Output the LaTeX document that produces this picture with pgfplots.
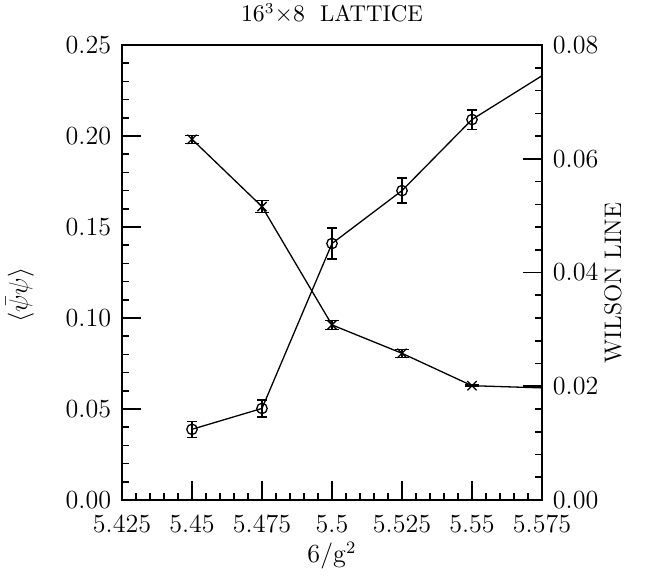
\documentclass[border=0pt]{standalone}
\usepackage{pgfplots}
\pgfplotsset{compat=1.18}

% Wilson line (right axis): x, y, error
\pgfplotstableread{
x      y        e
5.45   0.01243  0.0014
5.475  0.0161   0.0015
5.5    0.0451   0.0027
5.525  0.0544   0.0022
5.55   0.0669   0.0017
}\wilson
% <psibar psi> (left axis)
\pgfplotstableread{
x      y        e
5.45   0.1982   0.0022
5.475  0.1612   0.0033
5.5    0.0962   0.0025
5.525  0.0806   0.0022
5.55   0.0628   0.0004
}\pbp

\begin{document}
\begin{tikzpicture}
\path[use as bounding box] (-56.12pt,-35.42pt) rectangle (241.96pt,230pt);
\pgfplotsset{
  every axis/.append style={
    scale only axis, width=193.2pt, height=209.3pt,
    xmin=5.425, xmax=5.575,
    axis line style={line width=0.9pt},
    tick align=inside,
    major tick length=8.7pt, minor tick length=3.2pt,
    every tick/.style={black, line width=0.7pt},
    tick label style={font=\fontsize{12}{14}\selectfont},
  },
}
\begin{axis}[
  ymin=0, ymax=0.25,
  tick pos=left,
  xtick={5.425,5.45,5.475,5.5,5.525,5.55,5.575},
  xticklabels={5.425,5.45,5.475,5.5,5.525,5.55,5.575},
  minor x tick num=4,
  ytick={0,0.05,0.10,0.15,0.20,0.25},
  minor y tick num=4,
  yticklabel style={xshift=-1.5pt, /pgf/number format/fixed, /pgf/number format/fixed zerofill, /pgf/number format/precision=2},
  xticklabel style={yshift=-3.5pt},
  xlabel={$6/\mathrm{g}^2$},
  xlabel style={font=\fontsize{12}{14}\selectfont, at={(axis description cs:0.5,-0.122)}, anchor=center},
  ylabel={$\langle\bar\psi\psi\rangle$},
  ylabel style={font=\fontsize{12}{14}\selectfont, at={(axis description cs:-0.243,0.45)}, anchor=center},
  title={$16^3{\times}8$\ \ LATTICE},
  title style={font=\fontsize{10.5}{12}\selectfont, at={(axis description cs:0.5,1.04)}, anchor=center},
]
\addplot[black, line width=0.6pt, mark=none] coordinates
  {(5.45,0.1982)(5.475,0.1612)(5.5,0.0962)(5.525,0.0806)(5.55,0.0628)(5.575,0.0616)};
\addplot[black, only marks, mark=x, mark size=3pt, mark options={line width=0.6pt},
  error bars/.cd, y dir=both, y explicit,
  error bar style={line width=0.6pt},
  error mark options={rotate=90, mark size=3pt, line width=0.6pt}]
  table[x=x, y=y, y error=e] {\pbp};
\end{axis}
\begin{axis}[
  ymin=0, ymax=0.08,
  axis x line=none,
  axis y line*=right,
  tick align=inside,
  scaled y ticks=false,
  ytick={0,0.02,0.04,0.06,0.08},
  minor y tick num=4,
  yticklabel style={xshift=1.5pt, /pgf/number format/fixed, /pgf/number format/fixed zerofill, /pgf/number format/precision=2},
  ylabel={WILSON LINE},
  ylabel style={font=\fontsize{11}{13}\selectfont, at={(axis description cs:1.169,0.477)}, anchor=center, rotate=0},
]
\addplot[black, line width=0.6pt, mark=none] coordinates
  {(5.45,0.01243)(5.475,0.0161)(5.5,0.0451)(5.525,0.0544)(5.55,0.0669)(5.575,0.0746)};
\addplot[black, only marks, mark=o, mark size=2.4pt, mark options={line width=0.6pt},
  error bars/.cd, y dir=both, y explicit,
  error bar style={line width=0.6pt},
  error mark options={rotate=90, mark size=2.4pt, line width=0.6pt}]
  table[x=x, y=y, y error=e] {\wilson};
\end{axis}
\end{tikzpicture}
\end{document}
